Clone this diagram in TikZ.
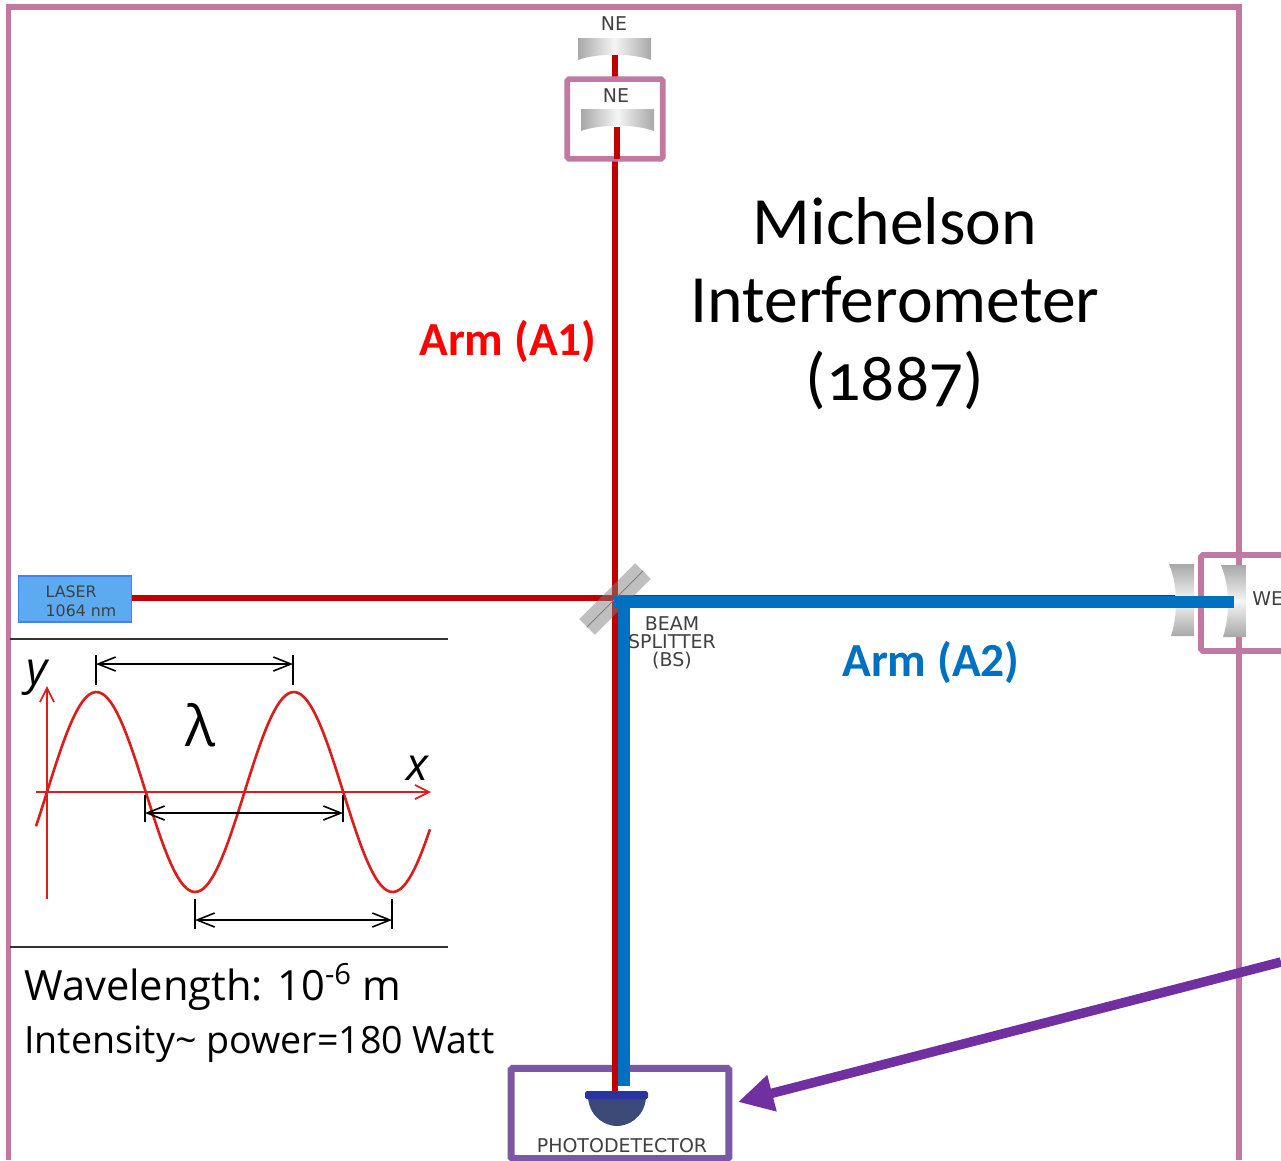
\documentclass[tikz,border=0pt]{standalone}
\usepackage{fontspec}
\usetikzlibrary{arrows.meta}
\setmainfont{Open Sans}
\newfontfamily\titlefont[Numbers=OldStyle]{Carlito}
\newfontfamily\armfont{Carlito}
\newfontfamily\partfont{DejaVu Sans}
\definecolor{framepink}{HTML}{C07AA2}
\definecolor{framepurple}{HTML}{7A58A5}
\definecolor{arrowpurple}{HTML}{7030A0}
\definecolor{beamred}{HTML}{C00000}
\definecolor{beamblue}{HTML}{0070C0}
\definecolor{laserblue}{HTML}{5CAAF2}
\definecolor{partgray}{HTML}{404040}
\definecolor{mirrorgray}{HTML}{A8A8A8}
\definecolor{domeblue}{HTML}{3C4A78}
\definecolor{wavered}{HTML}{DD1C1C}
\tikzset{
  redbeam/.style={draw=beamred,line width=3.4pt},
  bluebeam/.style={draw=beamblue,line width=6.4pt},
  pinkframe/.style={draw=framepink,line width=3.2pt,rounded corners=1pt},
  partlabel/.style={text=partgray,font=\partfont\fontsize{10.8}{10.3}\selectfont,align=center,inner sep=0pt},
  wavearrow/.style={draw=wavered,line width=1pt,-{Straight Barb[length=8pt,width=8pt]}},
  dimarrow/.style={draw=black,line width=.9pt,{Straight Barb[length=10pt,width=8pt]}-{Straight Barb[length=10pt,width=8pt]}},
  dimtick/.style={draw=black,line width=.9pt},
  nemirror/.pic={
    \path[left color=mirrorgray,right color=mirrorgray,middle color=white!92!gray]
      (0,0) -- (73,0) -- (73,22) .. controls (55,15) and (18,15) .. (0,22) -- cycle;
  },
  wemirror/.pic={
    \path[top color=mirrorgray,bottom color=mirrorgray,middle color=white!92!gray]
      (0,0) -- (25,0) -- (25,72) -- (2,72) .. controls (9,50) and (9,22) .. (0,0) -- cycle;
  }
}
\begin{document}
\begin{tikzpicture}[x=0.02cm,y=-0.02cm]
   \useasboundingbox (0,0) rectangle (1281,1160);

   \coordinate (c0) at (615,598);
   \coordinate (r1) at (615,55);
   \coordinate (r2) at (615,1092);
   \coordinate (r3) at (1175,598);
   \coordinate (r4) at (617,127);
   \coordinate (r5) at (617,159);
   \coordinate (b0) at (614,602);
   \coordinate (b1) at (1234,602);
   \coordinate (b2) at (624,602);
   \coordinate (b3) at (624,1086);

   \pic at (578,38) {nemirror};
   \pic at (1169,564) {wemirror};

   \node[draw=laserblue!75!blue,fill=laserblue,line width=.8pt,minimum width=64pt,minimum height=26pt,inner sep=0pt] (laser) at (75,599) {};
   \node[text=partgray,font=\partfont\fontsize{9}{11}\selectfont,align=left,inner sep=0pt] (laserlabel) at (81,601) {LASER\\1064 nm};

   \path[redbeam] (laser.east |- c0) -- (c0);
   \path[redbeam] (r1) -- (r2);
   \path[redbeam] (c0) -- (r3);

   \node[fill=gray,fill opacity=.5,rotate=45,minimum width=45pt,minimum height=12.5pt,inner sep=0pt] (bs) at (615,599) {};
   \path[draw=gray,line width=.5pt] (bs.west) -- (bs.east);

   \node[pinkframe,fill=white,minimum width=54.4pt,minimum height=45.4pt,inner sep=0pt] (nebox) at (615,119) {};
   \path[pinkframe,fill=white] (1281,555) -- (1201,555) -- (1201,651) -- (1281,651);
   \path[pinkframe,rounded corners=0pt] (8.5,1160) -- (8.5,7) -- (1239,7) -- (1239,1160);
   \node[draw=framepurple,fill=white,line width=4pt,rounded corners=1pt,minimum width=124pt,minimum height=51.5pt,inner sep=0pt] (pdbox) at (620,1113.5) {};

   \pic at (581,109) {nemirror};
   \pic at (1221,565) {wemirror};
   \path[redbeam] (r4) -- (r5);
   \path[redbeam] (pdbox.north -| r2) -- (r2);

   \path[bluebeam] (b1) -- (b0);
   \path[bluebeam] (b2) -- (b3);

   \node[partlabel] (ne1) at (614,24) {NE};
   \node[partlabel] (ne2) at (616,96) {NE};
   \node[partlabel,anchor=west] (we) at (1252,599) {WE};
   \node[partlabel] (bslabel) at (672,643) {BEAM\\SPLITTER\\(BS)};
   \node[partlabel] (pdlabel) at (622,1146) {PHOTODETECTOR};

   \path[fill=domeblue] (588,1098) .. controls (590,1118) and (606,1126) .. (617,1126)
      .. controls (628,1126) and (644,1118) .. (646,1098) -- cycle;
   \path[fill=domeblue!70!blue,rounded corners=1pt] (585,1091) rectangle (648,1099);

   \coordinate (a0) at (1281,962);
   \coordinate (a1) at (738,1102);
   \path[draw=arrowpurple,line width=5.4pt,-{Triangle[length=20pt,width=20pt]}] (a0) -- (a1);

   \node[inner sep=0pt,font=\titlefont\fontsize{38.5}{44.5}\selectfont,align=center] (title) at (895,304) {Michelson\\Interferometer\\(1887)};
   \node[inner sep=0pt,text=red,font=\armfont\bfseries\fontsize{27}{27}\selectfont] (arm1) at (508,341) {Arm (A1)};
   \node[inner sep=0pt,text=beamblue,font=\armfont\bfseries\fontsize{27}{27}\selectfont] (arm2) at (931,662) {Arm (A2)};

   \coordinate (l0) at (10,639);
   \coordinate (l1) at (448,639);
   \coordinate (l2) at (10,947);
   \coordinate (l3) at (448,947);
   \path[draw=black!80,line width=.6pt] (l0) -- (l1);
   \path[draw=black!80,line width=.8pt] (l2) -- (l3);

   \coordinate (ax0) at (36,792);
   \coordinate (ax1) at (431,792);
   \coordinate (ay0) at (47,899);
   \coordinate (ay1) at (47,686);
   \path[wavearrow] (ax0) -- (ax1);
   \path[wavearrow] (ay0) -- (ay1);
   \draw[wavered,line width=1.5pt,smooth,samples=120,domain=36:430] plot (\x,{792-100*sin((\x-47)/197.5*360)});

   \node[inner sep=0pt,font=\itshape\fontsize{26}{26}\selectfont] (ylabel) at (37,678) {y};
   \node[inner sep=0pt,font=\itshape\fontsize{26}{26}\selectfont] (xlabel) at (417,768) {x};
   \node[inner sep=0pt,font=\fontsize{32}{32}\selectfont] (lam) at (201,725) {λ};

   \foreach \n/\xa/\xb/\ya/\yb/\ym in {d1/96/293/655/685/664,d2/145/343/795/822/813,d3/195/392/899/929/920} {
      \coordinate (\n l) at (\xa,\ym);
      \coordinate (\n r) at (\xb,\ym);
      \path[dimarrow] (\n l) -- (\n r);
      \coordinate (\n a) at (\xa,\ya);
      \coordinate (\n b) at (\xa,\yb);
      \coordinate (\n c) at (\xb,\ya);
      \coordinate (\n d) at (\xb,\yb);
      \path[dimtick] (\n a) -- (\n b);
      \path[dimtick] (\n c) -- (\n d);
   }

   \node[inner sep=0pt,anchor=base west,font=\fontsize{23.7}{24}\selectfont] (wavelength) at (24,1000) {Wavelength: 10\textsuperscript{-6} m};
   \node[inner sep=0pt,anchor=base west,font=\fontsize{21.4}{22}\selectfont] (intensity) at (24,1053) {Intensity\textasciitilde{} power=180 Watt};
\end{tikzpicture}
\end{document}
